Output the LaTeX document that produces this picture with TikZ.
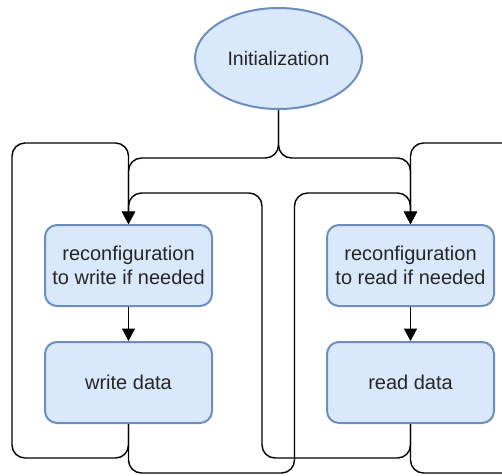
\documentclass[tikz,border=0pt]{standalone}
\usepackage{fontspec}
\setmainfont{Liberation Sans}
\usetikzlibrary{arrows.meta,shapes.geometric}
\definecolor{boxfill}{HTML}{DAE8FC}
\definecolor{boxline}{HTML}{6C8EBF}
\definecolor{txt}{HTML}{262626}
\tikzset{
  proc/.style={draw=boxline, fill=boxfill, line width=2pt, rounded corners=12pt,
    minimum width=167pt, minimum height=81pt, align=center, inner sep=0pt,
    text=txt, font=\fontsize{20}{24.5}\selectfont},
  startnode/.style={draw=boxline, fill=boxfill, line width=2pt, ellipse,
    minimum width=167pt, minimum height=101pt, inner sep=0pt,
    text=txt, font=\fontsize{19.5}{24.5}\selectfont},
  link/.style={draw=black, line width=1.4pt, rounded corners=13pt},
  arr/.style={link, -{Triangle[length=12.5pt,width=13pt]}}
}
\begin{document}
\begin{tikzpicture}[x=1pt,y=-1pt]
\useasboundingbox (0,0) rectangle (502,475);
\clip (0,0) rectangle (502,475);

% blocks
\node[startnode] (init) at (278.5,58.5) {Initialization};
\node[proc] (cfgw) at (128.5,265.5) {reconfiguration\\to write if needed};
\node[proc] (wr)   at (128.5,382.5) {write data};
\node[proc] (cfgr) at (410.5,265.5) {reconfiguration\\to read if needed};
\node[proc] (rd)   at (410.5,382.5) {read data};

% start branches
\draw[arr] (init.south) -- (278.5,158) -| (cfgw.north);
\draw[arr] (init.south) -- (278.5,158) -| (cfgr.north);

% inner steps
\draw[arr] (cfgw) -- (wr);
\draw[arr] (cfgr) -- (rd);

% loops back from write data
\draw[arr] (wr.south) -- (128.5,458) -- (12,458) -- (12,143) -| (cfgw.north);
\draw[arr] (wr.south) -- (128.5,473) -- (294.5,473) -- (294.5,193) -| (cfgr.north);

% loops back from read data
\draw[arr] (rd.south) -- (410.5,458) -- (262,458) -- (262,193) -| (cfgw.north);
\draw[arr] (rd.south) -- (410.5,473) -- (526,473) -- (526,143) -| (cfgr.north);
\end{tikzpicture}
\end{document}
